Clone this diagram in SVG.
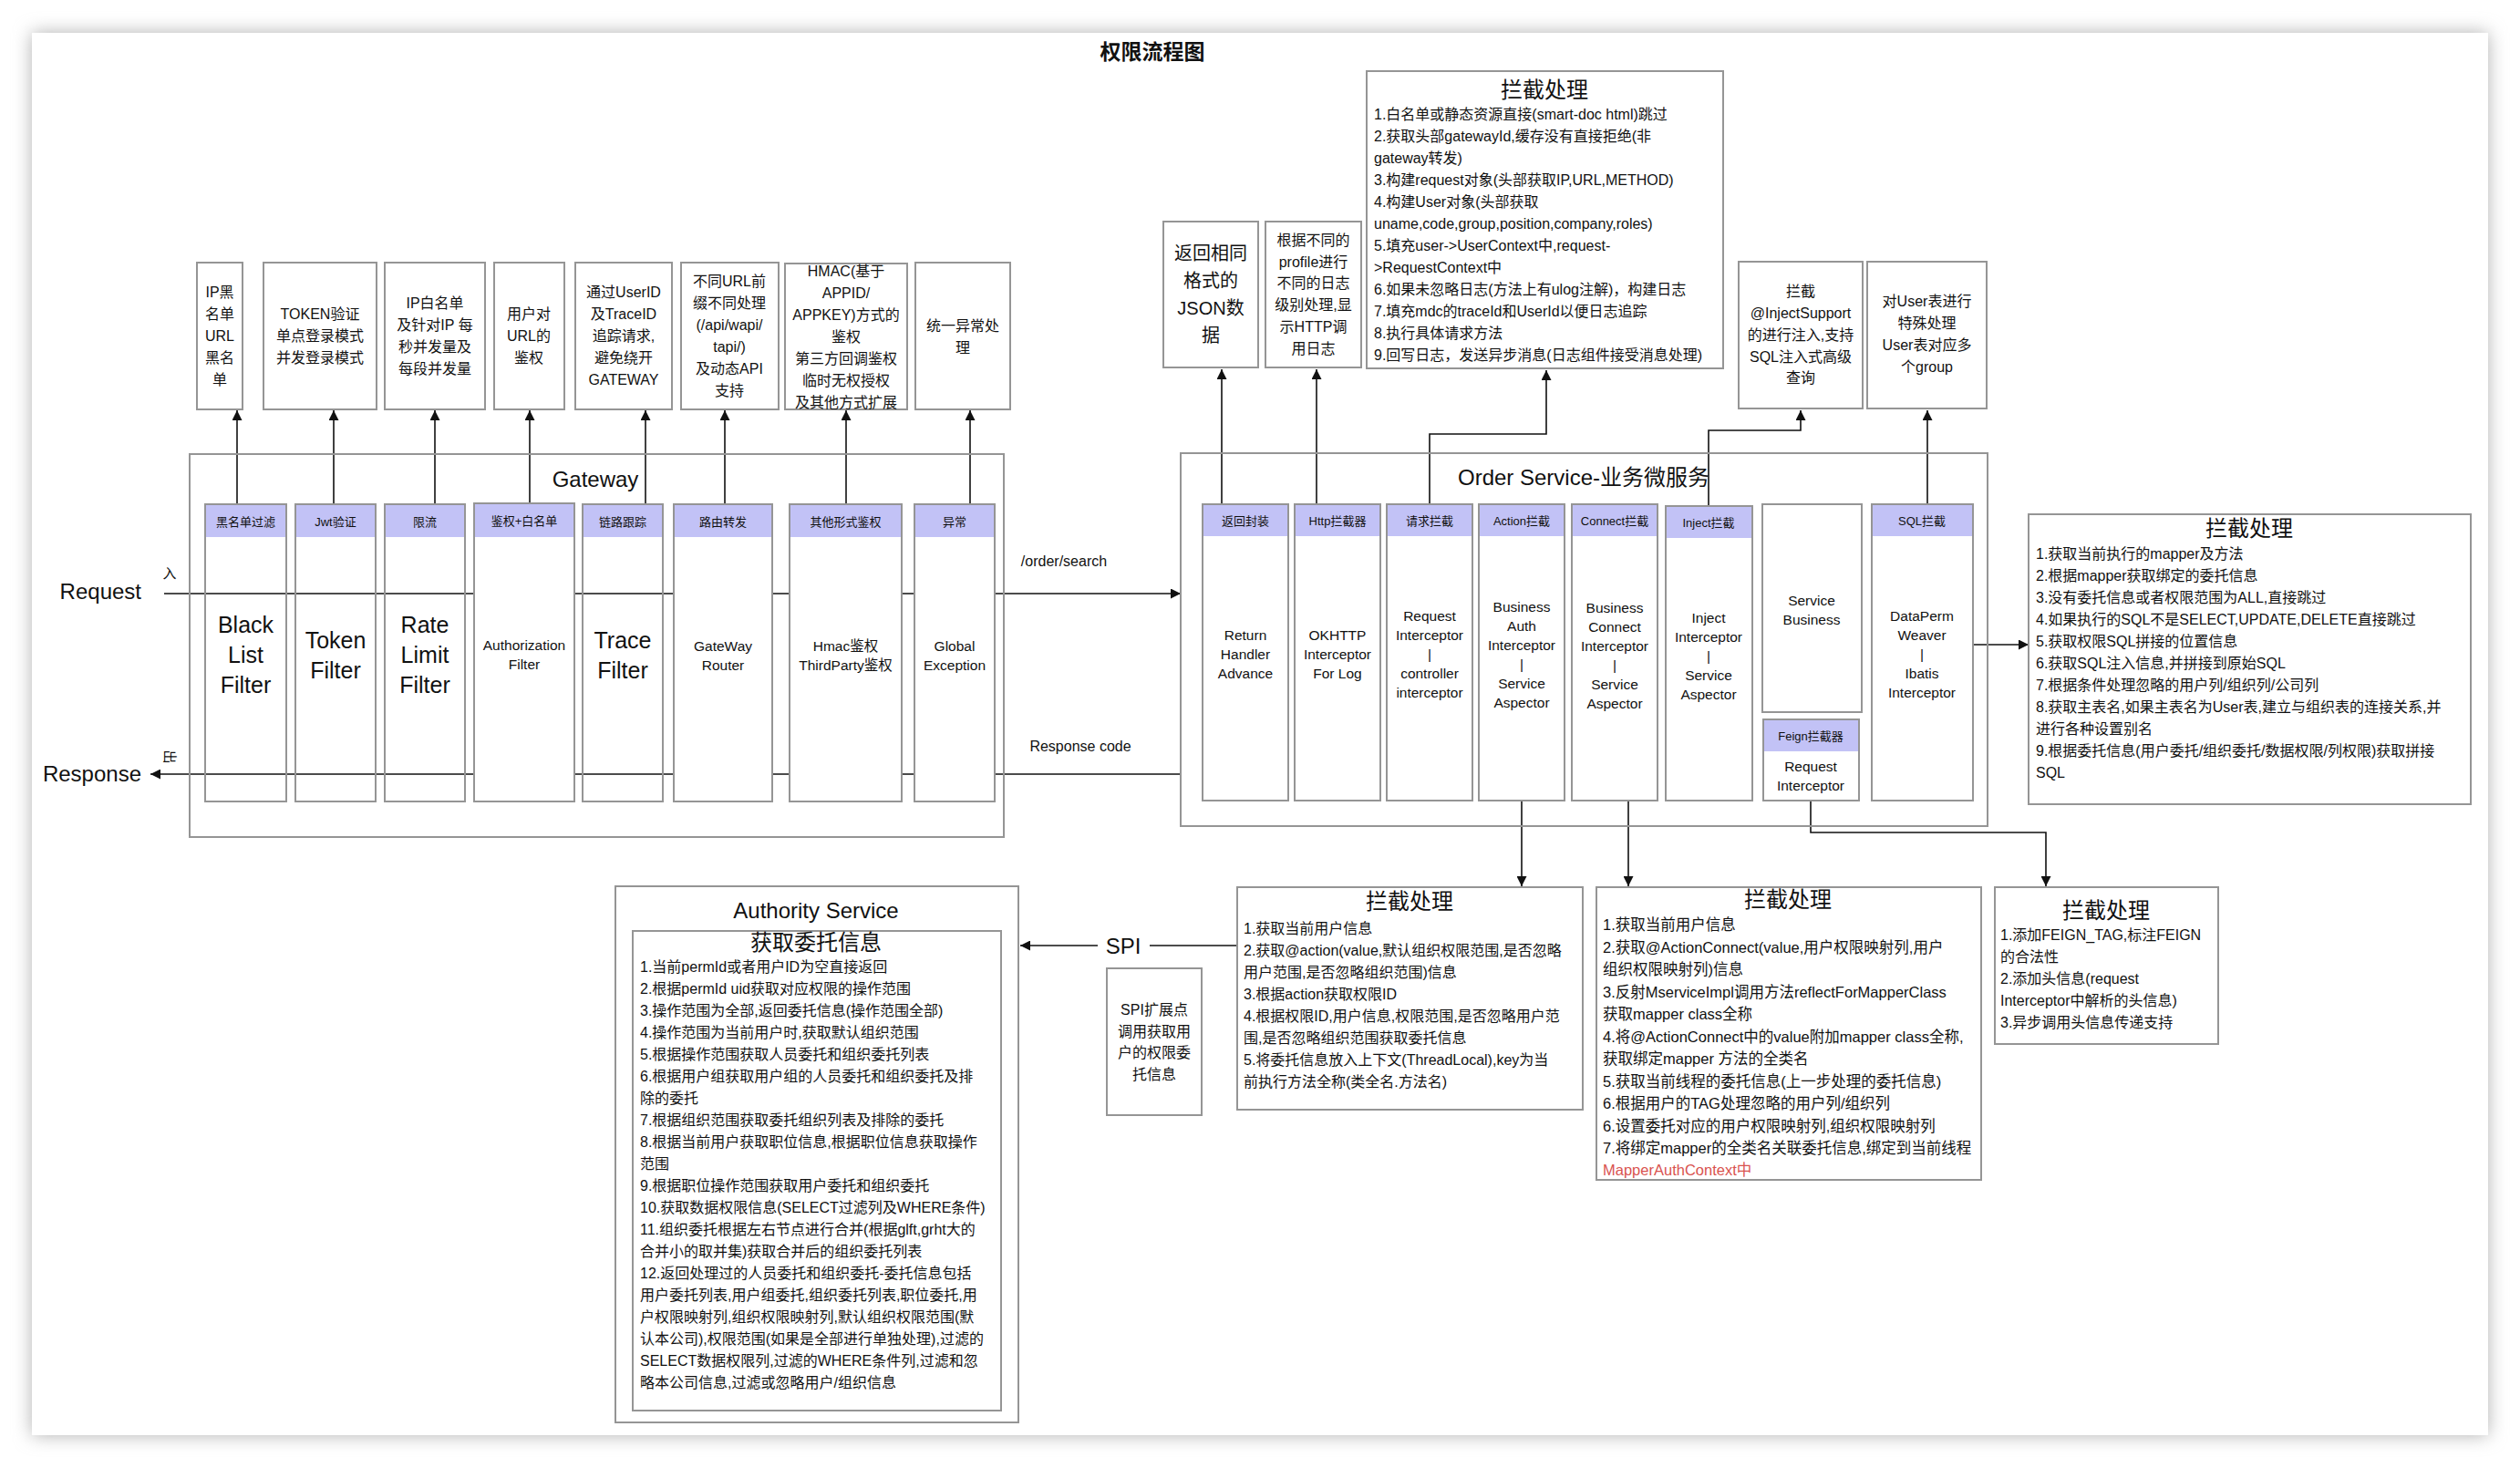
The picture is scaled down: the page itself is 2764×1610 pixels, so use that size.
<svg xmlns="http://www.w3.org/2000/svg" width="2764" height="1610" viewBox="0 0 2764 1610">
<style>
.t{font-family:"Liberation Sans","Noto Sans CJK SC",sans-serif;fill:#111;dominant-baseline:central}
.c{text-anchor:middle}
.s13{font-size:13px}
.s15{font-size:15.5px}
.s16{font-size:16px}
.s20{font-size:20px}
.s24{font-size:24px}
.s25{font-size:25px}
.box{fill:none;stroke:#959595;stroke-width:2}
.wbox{fill:#fff;stroke:#959595;stroke-width:2}
.hdr{fill:#c2c2f6}
.conn{fill:none;stroke:#111;stroke-width:1.6}
.red{fill:#d9534f}
</style>
<defs>
<marker id="ah" viewBox="0 0 10 10" refX="10" refY="5" markerWidth="13" markerHeight="11" markerUnits="userSpaceOnUse" orient="auto"><path d="M0,0 L10,5 L0,10 z" fill="#111"/></marker>
<filter id="sh" x="-5%" y="-5%" width="110%" height="110%"><feGaussianBlur stdDeviation="10"/></filter>
</defs>
<rect x="0" y="0" width="2764" height="1610" fill="#fff"/>
<rect x="35" y="36" width="2694" height="1538" fill="#b0b0b0" filter="url(#sh)"/>
<rect x="35" y="36" width="2694" height="1538" fill="#fff"/>

<text class="t c" x="1264" y="57" style="font-size:23px;font-weight:bold">权限流程图</text>

<!-- Request / Response -->
<g id="io">
<text class="t s24" x="155" y="648" text-anchor="end">Request</text>
<text class="t s24" x="155" y="848" text-anchor="end">Response</text>
<text class="t c" x="186" y="628" style="font-size:15px">入</text>
<text class="t c" x="186" y="830" style="font-size:15px" transform="rotate(90 186 830)">出</text>
<text class="t c s16" x="1167" y="615">/order/search</text>
<text class="t c s16" x="1185" y="818">Response code</text>
</g>

<!-- connectors -->
<g id="connectors">
<line class="conn" x1="180" y1="651" x2="1295" y2="651" marker-end="url(#ah)"/>
<line class="conn" x1="1295" y1="849" x2="165" y2="849" marker-end="url(#ah)"/>
<line class="conn" x1="260" y1="554" x2="260" y2="450" marker-end="url(#ah)"/>
<line class="conn" x1="366" y1="554" x2="366" y2="450" marker-end="url(#ah)"/>
<line class="conn" x1="477" y1="554" x2="477" y2="450" marker-end="url(#ah)"/>
<line class="conn" x1="581" y1="554" x2="581" y2="450" marker-end="url(#ah)"/>
<line class="conn" x1="708" y1="554" x2="708" y2="450" marker-end="url(#ah)"/>
<line class="conn" x1="795" y1="554" x2="795" y2="450" marker-end="url(#ah)"/>
<line class="conn" x1="928" y1="554" x2="928" y2="450" marker-end="url(#ah)"/>
<line class="conn" x1="1064" y1="554" x2="1064" y2="450" marker-end="url(#ah)"/>
<line class="conn" x1="1340" y1="554" x2="1340" y2="405" marker-end="url(#ah)"/>
<line class="conn" x1="1444" y1="554" x2="1444" y2="405" marker-end="url(#ah)"/>
<polyline class="conn" points="1568,554 1568,476 1696,476 1696,406" marker-end="url(#ah)"/>
<polyline class="conn" points="1874,556 1874,472 1975,472 1975,450" marker-end="url(#ah)"/>
<line class="conn" x1="2114" y1="554" x2="2114" y2="450" marker-end="url(#ah)"/>
<line class="conn" x1="2164" y1="707" x2="2225" y2="707" marker-end="url(#ah)"/>
<line class="conn" x1="1669" y1="879" x2="1669" y2="972" marker-end="url(#ah)"/>
<line class="conn" x1="1786" y1="879" x2="1786" y2="972" marker-end="url(#ah)"/>
<polyline class="conn" points="1986,879 1986,913 2244,913 2244,972" marker-end="url(#ah)"/>
<line class="conn" x1="1357" y1="1037" x2="1261" y2="1037"/>
<line class="conn" x1="1204" y1="1037" x2="1119" y2="1037" marker-end="url(#ah)"/>
<text class="t c" x="1232" y="1037" style="font-size:24px">SPI</text>
</g>

<!-- Gateway -->
<g id="gateway">
<rect class="box" x="208" y="498" width="893" height="420"/>
<text class="t c s24" x="653" y="525">Gateway</text>
</g>
<g id="gw-blacklist">
<rect class="box" x="225" y="553" width="89" height="326"/>
<rect class="hdr" x="226" y="554" width="87" height="35"/>
<text class="t c s13" x="269.5" y="572">黑名单过滤</text>
<text class="t c s25" x="269.5" y="685">Black</text>
<text class="t c s25" x="269.5" y="718">List</text>
<text class="t c s25" x="269.5" y="751">Filter</text>
</g>
<g id="gw-token">
<rect class="box" x="324" y="553" width="88" height="326"/>
<rect class="hdr" x="325" y="554" width="86" height="35"/>
<text class="t c s13" x="368" y="572">Jwt验证</text>
<text class="t c s25" x="368" y="702">Token</text>
<text class="t c s25" x="368" y="735">Filter</text>
</g>
<g id="gw-rate">
<rect class="box" x="422" y="553" width="88" height="326"/>
<rect class="hdr" x="423" y="554" width="86" height="35"/>
<text class="t c s13" x="466" y="572">限流</text>
<text class="t c s25" x="466" y="685">Rate</text>
<text class="t c s25" x="466" y="718">Limit</text>
<text class="t c s25" x="466" y="751">Filter</text>
</g>
<g id="gw-auth">
<rect class="wbox" x="520" y="552" width="110" height="327"/>
<rect class="hdr" x="521" y="553" width="108" height="36"/>
<text class="t c s13" x="575" y="571">鉴权+白名单</text>
<text class="t c s15" x="575" y="707">Authorization</text>
<text class="t c s15" x="575" y="728">Filter</text>
</g>
<g id="gw-trace">
<rect class="box" x="639" y="553" width="88" height="326"/>
<rect class="hdr" x="640" y="554" width="86" height="35"/>
<text class="t c s13" x="683" y="572">链路跟踪</text>
<text class="t c s25" x="683" y="702">Trace</text>
<text class="t c s25" x="683" y="735">Filter</text>
</g>
<g id="gw-router">
<rect class="wbox" x="739" y="553" width="108" height="326"/>
<rect class="hdr" x="740" y="554" width="106" height="35"/>
<text class="t c s13" x="793" y="572">路由转发</text>
<text class="t c s15" x="793" y="708">GateWay</text>
<text class="t c s15" x="793" y="729">Router</text>
</g>
<g id="gw-hmac">
<rect class="wbox" x="866" y="553" width="123" height="326"/>
<rect class="hdr" x="867" y="554" width="121" height="35"/>
<text class="t c s13" x="927.5" y="572">其他形式鉴权</text>
<text class="t c s15" x="927.5" y="708">Hmac鉴权</text>
<text class="t c s15" x="927.5" y="729">ThirdParty鉴权</text>
</g>
<g id="gw-exception">
<rect class="wbox" x="1003" y="553" width="88" height="326"/>
<rect class="hdr" x="1004" y="554" width="86" height="35"/>
<text class="t c s13" x="1047" y="572">异常</text>
<text class="t c s15" x="1047" y="708">Global</text>
<text class="t c s15" x="1047" y="729">Exception</text>
</g>

<!-- Gateway annotations -->
<g id="note-ipblack">
<rect class="box" x="216" y="288" width="50" height="161"/>
<text class="t c s16" x="241" y="320">IP黑</text>
<text class="t c s16" x="241" y="344">名单</text>
<text class="t c s16" x="241" y="368">URL</text>
<text class="t c s16" x="241" y="392">黑名</text>
<text class="t c s16" x="241" y="416">单</text>
</g>
<g id="note-token">
<rect class="box" x="289" y="288" width="124" height="161"/>
<text class="t c s16" x="351" y="344">TOKEN验证</text>
<text class="t c s16" x="351" y="368">单点登录模式</text>
<text class="t c s16" x="351" y="392">并发登录模式</text>
</g>
<g id="note-ipwhite">
<rect class="box" x="422" y="288" width="110" height="161"/>
<text class="t c s16" x="477" y="332">IP白名单</text>
<text class="t c s16" x="477" y="356">及针对IP 每</text>
<text class="t c s16" x="477" y="380">秒并发量及</text>
<text class="t c s16" x="477" y="404">每段并发量</text>
</g>
<g id="note-url">
<rect class="box" x="542" y="288" width="77" height="161"/>
<text class="t c s16" x="580" y="344">用户对</text>
<text class="t c s16" x="580" y="368">URL的</text>
<text class="t c s16" x="580" y="392">鉴权</text>
</g>
<g id="note-trace">
<rect class="box" x="631" y="288" width="106" height="161"/>
<text class="t c s16" x="684" y="320">通过UserID</text>
<text class="t c s16" x="684" y="344">及TraceID</text>
<text class="t c s16" x="684" y="368">追踪请求,</text>
<text class="t c s16" x="684" y="392">避免绕开</text>
<text class="t c s16" x="684" y="416">GATEWAY</text>
</g>
<g id="note-router">
<rect class="box" x="747" y="288" width="107" height="161"/>
<text class="t c s16" x="800" y="308">不同URL前</text>
<text class="t c s16" x="800" y="332">缀不同处理</text>
<text class="t c s16" x="800" y="356">(/api/wapi/</text>
<text class="t c s16" x="800" y="380">tapi/)</text>
<text class="t c s16" x="800" y="404">及动态API</text>
<text class="t c s16" x="800" y="428">支持</text>
</g>
<g id="note-hmac">
<rect class="box" x="861" y="289" width="134" height="160"/>
<text class="t c s16" x="928" y="297">HMAC(基于</text>
<text class="t c s16" x="928" y="321">APPID/</text>
<text class="t c s16" x="928" y="345">APPKEY)方式的</text>
<text class="t c s16" x="928" y="369">鉴权</text>
<text class="t c s16" x="928" y="393">第三方回调鉴权</text>
<text class="t c s16" x="928" y="417">临时无权授权</text>
<text class="t c s16" x="928" y="441">及其他方式扩展</text>
</g>
<g id="note-exception">
<rect class="box" x="1004" y="288" width="104" height="161"/>
<text class="t c s16" x="1056" y="357">统一异常处</text>
<text class="t c s16" x="1056" y="381">理</text>
</g>

<!-- Order Service -->
<g id="order">
<rect class="box" x="1295" y="497" width="885" height="409"/>
<text class="t c s24" x="1737" y="523">Order Service-业务微服务</text>
</g>
<g id="os-return">
<rect class="box" x="1319" y="553" width="94" height="325"/>
<rect class="hdr" x="1320" y="554" width="92" height="34"/>
<text class="t c s13" x="1366" y="571">返回封装</text>
<text class="t c s15" x="1366" y="696">Return</text>
<text class="t c s15" x="1366" y="717">Handler</text>
<text class="t c s15" x="1366" y="738">Advance</text>
</g>
<g id="os-http">
<rect class="box" x="1420" y="553" width="94" height="325"/>
<rect class="hdr" x="1421" y="554" width="92" height="34"/>
<text class="t c s13" x="1467" y="571">Http拦截器</text>
<text class="t c s15" x="1467" y="696">OKHTTP</text>
<text class="t c s15" x="1467" y="717">Interceptor</text>
<text class="t c s15" x="1467" y="738">For Log</text>
</g>
<g id="os-request">
<rect class="box" x="1521" y="553" width="94" height="325"/>
<rect class="hdr" x="1522" y="554" width="92" height="34"/>
<text class="t c s13" x="1568" y="571">请求拦截</text>
<text class="t c s15" x="1568" y="675">Request</text>
<text class="t c s15" x="1568" y="696">Interceptor</text>
<text class="t c s15" x="1568" y="717">|</text>
<text class="t c s15" x="1568" y="738">controller</text>
<text class="t c s15" x="1568" y="759">interceptor</text>
</g>
<g id="os-action">
<rect class="box" x="1622" y="553" width="94" height="325"/>
<rect class="hdr" x="1623" y="554" width="92" height="34"/>
<text class="t c s13" x="1669" y="571">Action拦截</text>
<text class="t c s15" x="1669" y="665">Business</text>
<text class="t c s15" x="1669" y="686">Auth</text>
<text class="t c s15" x="1669" y="707">Interceptor</text>
<text class="t c s15" x="1669" y="728">|</text>
<text class="t c s15" x="1669" y="749">Service</text>
<text class="t c s15" x="1669" y="770">Aspector</text>
</g>
<g id="os-connect">
<rect class="box" x="1724" y="553" width="94" height="325"/>
<rect class="hdr" x="1725" y="554" width="92" height="34"/>
<text class="t c s13" x="1771" y="571">Connect拦截</text>
<text class="t c s15" x="1771" y="666">Business</text>
<text class="t c s15" x="1771" y="687">Connect</text>
<text class="t c s15" x="1771" y="708">Interceptor</text>
<text class="t c s15" x="1771" y="729">|</text>
<text class="t c s15" x="1771" y="750">Service</text>
<text class="t c s15" x="1771" y="771">Aspector</text>
</g>
<g id="os-inject">
<rect class="box" x="1827" y="555" width="95" height="323"/>
<rect class="hdr" x="1828" y="556" width="93" height="34"/>
<text class="t c s13" x="1874" y="573">Inject拦截</text>
<text class="t c s15" x="1874" y="677">Inject</text>
<text class="t c s15" x="1874" y="698">Interceptor</text>
<text class="t c s15" x="1874" y="719">|</text>
<text class="t c s15" x="1874" y="740">Service</text>
<text class="t c s15" x="1874" y="761">Aspector</text>
</g>
<g id="os-service">
<rect class="box" x="1933" y="553" width="109" height="228"/>
<text class="t c s15" x="1987" y="658">Service</text>
<text class="t c s15" x="1987" y="679">Business</text>
</g>
<g id="os-feign">
<rect class="box" x="1934" y="789" width="105" height="89"/>
<rect class="hdr" x="1935" y="790" width="103" height="34"/>
<text class="t c s13" x="1986" y="807">Feign拦截器</text>
<text class="t c s15" x="1986" y="840">Request</text>
<text class="t c s15" x="1986" y="861">Interceptor</text>
</g>
<g id="os-sql">
<rect class="box" x="2053" y="553" width="111" height="325"/>
<rect class="hdr" x="2054" y="554" width="109" height="34"/>
<text class="t c s13" x="2108" y="571">SQL拦截</text>
<text class="t c s15" x="2108" y="675">DataPerm</text>
<text class="t c s15" x="2108" y="696">Weaver</text>
<text class="t c s15" x="2108" y="717">|</text>
<text class="t c s15" x="2108" y="738">Ibatis</text>
<text class="t c s15" x="2108" y="759">Interceptor</text>
</g>

<!-- Order annotations -->
<g id="note-json">
<rect class="box" x="1276" y="243" width="104" height="160"/>
<text class="t c s20" x="1328" y="278">返回相同</text>
<text class="t c s20" x="1328" y="308">格式的</text>
<text class="t c s20" x="1328" y="338">JSON数</text>
<text class="t c s20" x="1328" y="368">据</text>
</g>
<g id="note-profile">
<rect class="box" x="1388" y="243" width="105" height="160"/>
<text class="t c s16" x="1440.5" y="263">根据不同的</text>
<text class="t c s16" x="1440.5" y="287">profile进行</text>
<text class="t c s16" x="1440.5" y="310">不同的日志</text>
<text class="t c s16" x="1440.5" y="334">级别处理,显</text>
<text class="t c s16" x="1440.5" y="358">示HTTP调</text>
<text class="t c s16" x="1440.5" y="382">用日志</text>
</g>
<g id="note-request">
<rect class="box" x="1499" y="78" width="391" height="326"/>
<text class="t c s24" x="1694" y="98">拦截处理</text>
<text class="t s16" x="1507" y="125">1.白名单或静态资源直接(smart-doc html)跳过</text>
<text class="t s16" x="1507" y="149">2.获取头部gatewayId,缓存没有直接拒绝(非</text>
<text class="t s16" x="1507" y="173">gateway转发)</text>
<text class="t s16" x="1507" y="197">3.构建request对象(头部获取IP,URL,METHOD)</text>
<text class="t s16" x="1507" y="221">4.构建User对象(头部获取</text>
<text class="t s16" x="1507" y="245">uname,code,group,position,company,roles)</text>
<text class="t s16" x="1507" y="269">5.填充user-&gt;UserContext中,request-</text>
<text class="t s16" x="1507" y="293">&gt;RequestContext中</text>
<text class="t s16" x="1507" y="317">6.如果未忽略日志(方法上有ulog注解)，构建日志</text>
<text class="t s16" x="1507" y="341">7.填充mdc的traceId和UserId以便日志追踪</text>
<text class="t s16" x="1507" y="365">8.执行具体请求方法</text>
<text class="t s16" x="1507" y="389">9.回写日志，发送异步消息(日志组件接受消息处理)</text>
</g>
<g id="note-inject">
<rect class="box" x="1907" y="287" width="136" height="161"/>
<text class="t c s16" x="1975" y="319">拦截</text>
<text class="t c s16" x="1975" y="343">@InjectSupport</text>
<text class="t c s16" x="1975" y="367">的进行注入,支持</text>
<text class="t c s16" x="1975" y="391">SQL注入式高级</text>
<text class="t c s16" x="1975" y="414">查询</text>
</g>
<g id="note-user">
<rect class="box" x="2048" y="287" width="131" height="161"/>
<text class="t c s16" x="2113.5" y="330">对User表进行</text>
<text class="t c s16" x="2113.5" y="354">特殊处理</text>
<text class="t c s16" x="2113.5" y="378">User表对应多</text>
<text class="t c s16" x="2113.5" y="402">个group</text>
</g>
<g id="note-sql">
<rect class="box" x="2225" y="564" width="485" height="318"/>
<text class="t c s24" x="2467" y="579">拦截处理</text>
<text class="t s16" x="2233" y="607">1.获取当前执行的mapper及方法</text>
<text class="t s16" x="2233" y="631">2.根据mapper获取绑定的委托信息</text>
<text class="t s16" x="2233" y="655">3.没有委托信息或者权限范围为ALL,直接跳过</text>
<text class="t s16" x="2233" y="679">4.如果执行的SQL不是SELECT,UPDATE,DELETE直接跳过</text>
<text class="t s16" x="2233" y="703">5.获取权限SQL拼接的位置信息</text>
<text class="t s16" x="2233" y="727">6.获取SQL注入信息,并拼接到原始SQL</text>
<text class="t s16" x="2233" y="751">7.根据条件处理忽略的用户列/组织列/公司列</text>
<text class="t s16" x="2233" y="775">8.获取主表名,如果主表名为User表,建立与组织表的连接关系,并</text>
<text class="t s16" x="2233" y="799">进行各种设置别名</text>
<text class="t s16" x="2233" y="823">9.根据委托信息(用户委托/组织委托/数据权限/列权限)获取拼接</text>
<text class="t s16" x="2233" y="847">SQL</text>
</g>

<!-- Bottom boxes -->
<g id="note-action">
<rect class="box" x="1357" y="973" width="379" height="244"/>
<text class="t c s24" x="1546" y="988">拦截处理</text>
<text class="t s16" x="1364" y="1018">1.获取当前用户信息</text>
<text class="t s16" x="1364" y="1042">2.获取@action(value,默认组织权限范围,是否忽略</text>
<text class="t s16" x="1364" y="1066">用户范围,是否忽略组织范围)信息</text>
<text class="t s16" x="1364" y="1090">3.根据action获取权限ID</text>
<text class="t s16" x="1364" y="1114">4.根据权限ID,用户信息,权限范围,是否忽略用户范</text>
<text class="t s16" x="1364" y="1138">围,是否忽略组织范围获取委托信息</text>
<text class="t s16" x="1364" y="1162">5.将委托信息放入上下文(ThreadLocal),key为当</text>
<text class="t s16" x="1364" y="1186">前执行方法全称(类全名.方法名)</text>
</g>
<g id="note-connect">
<rect class="box" x="1751" y="973" width="422" height="321"/>
<text class="t c s24" x="1961" y="986">拦截处理</text>
<text class="t" style="font-size:16.5px" x="1758" y="1014">1.获取当前用户信息</text>
<text class="t" style="font-size:16.5px" x="1758" y="1039">2.获取@ActionConnect(value,用户权限映射列,用户</text>
<text class="t" style="font-size:16.5px" x="1758" y="1063">组织权限映射列)信息</text>
<text class="t" style="font-size:16.5px" x="1758" y="1088">3.反射MserviceImpl调用方法reflectForMapperClass</text>
<text class="t" style="font-size:16.5px" x="1758" y="1112">获取mapper class全称</text>
<text class="t" style="font-size:16.5px" x="1758" y="1137">4.将@ActionConnect中的value附加mapper class全称,</text>
<text class="t" style="font-size:16.5px" x="1758" y="1161">获取绑定mapper 方法的全类名</text>
<text class="t" style="font-size:16.5px" x="1758" y="1186">5.获取当前线程的委托信息(上一步处理的委托信息)</text>
<text class="t" style="font-size:16.5px" x="1758" y="1210">6.根据用户的TAG处理忽略的用户列/组织列</text>
<text class="t" style="font-size:16.5px" x="1758" y="1235">6.设置委托对应的用户权限映射列,组织权限映射列</text>
<text class="t" style="font-size:16.5px" x="1758" y="1259">7.将绑定mapper的全类名关联委托信息,绑定到当前线程</text>
<text class="t red" style="font-size:16.5px" x="1758" y="1283">MapperAuthContext中</text>
</g>
<g id="note-feign">
<rect class="box" x="2188" y="973" width="245" height="172"/>
<text class="t c s24" x="2310" y="998">拦截处理</text>
<text class="t s16" x="2194" y="1025">1.添加FEIGN_TAG,标注FEIGN</text>
<text class="t s16" x="2194" y="1049">的合法性</text>
<text class="t s16" x="2194" y="1073">2.添加头信息(request</text>
<text class="t s16" x="2194" y="1097">Interceptor中解析的头信息)</text>
<text class="t s16" x="2194" y="1121">3.异步调用头信息传递支持</text>
</g>
<g id="note-spi">
<rect class="box" x="1214" y="1062" width="104" height="161"/>
<text class="t c s16" x="1266" y="1107">SPI扩展点</text>
<text class="t c s16" x="1266" y="1131">调用获取用</text>
<text class="t c s16" x="1266" y="1154">户的权限委</text>
<text class="t c s16" x="1266" y="1178">托信息</text>
</g>
<g id="authority">
<rect class="box" x="675" y="972" width="442" height="588"/>
<text class="t c s24" x="895" y="998">Authority Service</text>
<rect class="box" x="694" y="1021" width="404" height="526"/>
<text class="t c s24" x="895" y="1033">获取委托信息</text>
<text class="t s16" x="702" y="1060">1.当前permId或者用户ID为空直接返回</text>
<text class="t s16" x="702" y="1084">2.根据permId uid获取对应权限的操作范围</text>
<text class="t s16" x="702" y="1108">3.操作范围为全部,返回委托信息(操作范围全部)</text>
<text class="t s16" x="702" y="1132">4.操作范围为当前用户时,获取默认组织范围</text>
<text class="t s16" x="702" y="1156">5.根据操作范围获取人员委托和组织委托列表</text>
<text class="t s16" x="702" y="1180">6.根据用户组获取用户组的人员委托和组织委托及排</text>
<text class="t s16" x="702" y="1204">除的委托</text>
<text class="t s16" x="702" y="1228">7.根据组织范围获取委托组织列表及排除的委托</text>
<text class="t s16" x="702" y="1252">8.根据当前用户获取职位信息,根据职位信息获取操作</text>
<text class="t s16" x="702" y="1276">范围</text>
<text class="t s16" x="702" y="1300">9.根据职位操作范围获取用户委托和组织委托</text>
<text class="t s16" x="702" y="1324">10.获取数据权限信息(SELECT过滤列及WHERE条件)</text>
<text class="t s16" x="702" y="1348">11.组织委托根据左右节点进行合并(根据glft,grht大的</text>
<text class="t s16" x="702" y="1372">合并小的取并集)获取合并后的组织委托列表</text>
<text class="t s16" x="702" y="1396">12.返回处理过的人员委托和组织委托-委托信息包括</text>
<text class="t s16" x="702" y="1420">用户委托列表,用户组委托,组织委托列表,职位委托,用</text>
<text class="t s16" x="702" y="1444">户权限映射列,组织权限映射列,默认组织权限范围(默</text>
<text class="t s16" x="702" y="1468">认本公司),权限范围(如果是全部进行单独处理),过滤的</text>
<text class="t s16" x="702" y="1492">SELECT数据权限列,过滤的WHERE条件列,过滤和忽</text>
<text class="t s16" x="702" y="1516">略本公司信息,过滤或忽略用户/组织信息</text>
</g>
</svg>
